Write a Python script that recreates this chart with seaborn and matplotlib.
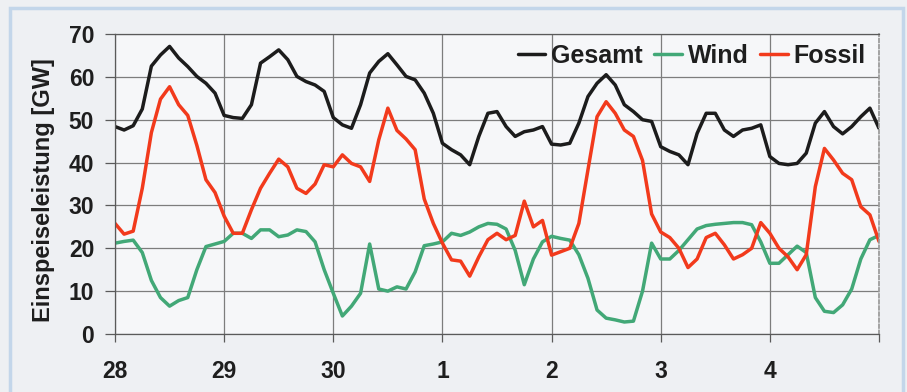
import matplotlib.pyplot as plt
import matplotlib.patches as mpatches
import numpy as np
import pandas as pd
import seaborn as sns

# Zeitachse: alle 2 Stunden, 28. bis 5. (7 Tage)
stunden = np.arange(0, 170, 2)
tage_pos = [0, 1, 2, 3, 4, 5, 6, 7]
tage_labels = ["28", "29", "30", "1", "2", "3", "4", ""]

# Werte in GW
gesamt = [
    48.4, 47.6, 48.6, 52.5, 62.5, 65.1, 67.1, 64.4, 62.4, 60.1, 58.5, 56.2,  # 28
    51.0, 50.5, 50.3, 53.5, 63.2, 64.7, 66.3, 64.0, 60.1, 58.9, 58.1, 56.6,  # 29
    50.5, 48.8, 48.0, 53.5, 60.9, 63.6, 65.4, 62.8, 60.1, 59.3, 56.2, 51.5,  # 30
    44.5, 43.0, 41.8, 39.5, 46.1, 51.5, 51.9, 48.4, 46.1, 47.2, 47.6, 48.4,  # 1
    44.3, 44.1, 44.5, 49.2, 55.4, 58.5, 60.5, 58.1, 53.5, 51.9, 50.0, 49.6,  # 2
    43.7, 42.6, 41.8, 39.5, 46.8, 51.5, 51.5, 47.6, 46.1, 47.6, 48.0, 48.8,  # 3
    41.4, 39.8, 39.5, 39.8, 42.2, 49.2, 51.9, 48.4, 46.7, 48.4, 50.7, 52.7,  # 4
    48.0,
]
wind = [
    21.2, 21.6, 21.9, 19.0, 12.5, 8.5, 6.5, 7.8, 8.5, 15.0, 20.4, 21.0,
    21.6, 23.5, 23.5, 22.3, 24.3, 24.3, 22.7, 23.1, 24.3, 23.9, 21.5, 15.0,
    9.5, 4.2, 6.5, 9.5, 21.0, 10.5, 10.0, 11.0, 10.5, 14.5, 20.6, 21.0,
    21.5, 23.5, 23.0, 23.8, 25.0, 25.8, 25.6, 24.5, 19.5, 11.5, 17.5, 21.5,
    22.8, 22.3, 21.9, 18.5, 13.0, 5.6, 3.7, 3.3, 2.8, 3.0, 10.0, 21.2,
    17.5, 17.5, 19.5, 22.0, 24.5, 25.3, 25.6, 25.8, 26.0, 26.0, 25.5, 21.5,
    16.5, 16.5, 18.5, 20.5, 19.0, 8.5, 5.3, 5.0, 6.8, 10.5, 17.5, 22.0,
    23.0,
]
fossil = [
    25.8, 23.3, 24.0, 34.0, 47.0, 54.8, 57.7, 53.5, 51.0, 44.0, 36.0, 33.0,
    27.5, 23.5, 23.5, 29.0, 34.0, 37.5, 40.8, 39.0, 34.0, 32.8, 35.0, 39.5,
    39.0, 41.8, 39.8, 39.0, 35.6, 45.3, 52.7, 47.5, 45.5, 43.0, 31.5, 25.8,
    21.2, 17.3, 17.0, 13.5, 18.0, 22.0, 23.5, 22.0, 23.0, 31.0, 25.0, 26.5,
    18.4, 19.2, 20.0, 25.8, 38.3, 50.7, 54.2, 51.5, 47.6, 46.1, 40.5, 28.0,
    23.8, 22.5, 20.0, 15.5, 17.5, 22.5, 23.5, 20.8, 17.5, 18.5, 20.0, 26.0,
    23.5, 20.0, 18.0, 15.0, 18.5, 34.4, 43.3, 40.6, 37.5, 36.0, 29.7, 27.8,
    21.6,
]

serien = ["Gesamt", "Wind", "Fossil"]
farben = {"Gesamt": "#1c1c1c", "Wind": "#42a877", "Fossil": "#f23a1c"}

df = pd.concat(
    [
        pd.DataFrame({"t": stunden / 24, "GW": werte, "Serie": name})
        for name, werte in zip(serien, [gesamt, wind, fossil])
    ],
    ignore_index=True,
)

sns.set_theme(style="whitegrid")
plt.rcParams["font.family"] = ["Liberation Sans", "DejaVu Sans"]
plt.rcParams["font.weight"] = "bold"
plt.rcParams["lines.solid_joinstyle"] = "round"
plt.rcParams["lines.solid_capstyle"] = "round"

fig = plt.figure(figsize=(9.07, 3.92), dpi=100, facecolor="#eef0f3")
ax = fig.add_axes([115 / 907, 58 / 392, 764 / 907, 300 / 392])
ax.set_facecolor("#f6f7f9")

# heller Rahmen wie im Scan
fig.add_artist(mpatches.Rectangle((10 / 907, -0.02), 893 / 907, 1.0,
                                  transform=fig.transFigure, fill=False,
                                  edgecolor="#c3d6ea", lw=2.5))

sns.lineplot(data=df, x="t", y="GW", hue="Serie", hue_order=serien,
             palette=farben, linewidth=2.5, ax=ax, legend=True)

ax.set_xlim(0, 7)
ax.set_ylim(0, 70)
ax.set_yticks(range(0, 71, 10))
ax.set_xticks(tage_pos)
ax.set_xticklabels(tage_labels)

ax.grid(True, color="#7d7d7d", lw=0.9)
for side in ["left", "bottom", "top"]:
    ax.spines[side].set_color("#5a5a5a")
    ax.spines[side].set_linewidth(0.9)
ax.spines["right"].set_color("#9a9a9a")
ax.spines["right"].set_linestyle((0, (2, 1.5)))

ax.tick_params(axis="y", length=7, width=0.9, color="#5a5a5a", pad=8,
               labelsize=16.5, labelcolor="#1e1e1e", left=True)
ax.tick_params(axis="x", length=6, width=0.9, color="#5a5a5a", pad=13,
               labelsize=16.5, labelcolor="#1e1e1e", bottom=True)
for lab in ax.get_xticklabels() + ax.get_yticklabels():
    lab.set_fontweight("bold")

ax.set_xlabel("")
ax.set_ylabel("Einspeiseleistung [GW]", fontsize=17, fontweight="bold",
              color="#1e1e1e")
ax.yaxis.set_label_coords(-0.078, 0.48)

handles, labels = ax.get_legend_handles_labels()
leg = ax.legend(handles, labels, ncol=3, frameon=False, loc="center right",
                bbox_to_anchor=((866 - 115) / 764, (334 - 56) / 300),
                borderaxespad=0, borderpad=0, handlelength=1.1,
                handletextpad=0.25, columnspacing=0.45,
                prop={"size": 18, "weight": "bold"})
for line in leg.get_lines():
    line.set_linewidth(2.5)
for txt in leg.get_texts():
    txt.set_color("#1e1e1e")

fig.savefig("out.png", dpi=100, facecolor=fig.get_facecolor())
